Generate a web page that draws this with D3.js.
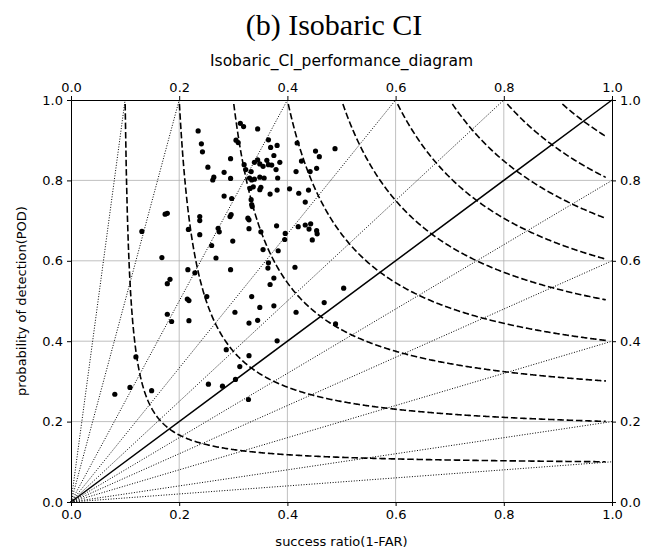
<!DOCTYPE html>
<html>
<head>
<meta charset="utf-8">
<script src="https://cdn.jsdelivr.net/npm/d3@7"></script>
<style>
  body { margin: 0; background: #fff; }
  svg { display: block; overflow: visible; }
  text { font-family: "DejaVu Sans", sans-serif; fill: #000; }
</style>
</head>
<body>
<div id="chart"></div>
<script>
const width = 664, height = 553;
const margin = {top: 100, right: 52, bottom: 51, left: 71};
const innerWidth = width - margin.left - margin.right;
const innerHeight = height - margin.top - margin.bottom;

// CSI contour levels and frequency-bias lines
const csiLevels = [0.1, 0.2, 0.3, 0.4, 0.5, 0.6, 0.7, 0.8, 0.9];
const biasLevels = [0.1, 0.2, 0.4, 0.6, 0.8, 1.25, 1.6667, 2.5, 5, 10];
const tickValues = [0, 0.2, 0.4, 0.6, 0.8, 1.0];

// scatter: success ratio (1-FAR) and POD for each case
const successRatio = [
  0.235, 0.241, 0.243, 0.253, 0.264, 0.262, 0.283, 0.295, 0.295, 0.313,
  0.319, 0.345, 0.305, 0.365, 0.381, 0.369, 0.418, 0.452, 0.459, 0.488,
  0.320, 0.323, 0.333, 0.339, 0.345, 0.349, 0.355, 0.362, 0.365, 0.371,
  0.375, 0.386, 0.379, 0.382, 0.330, 0.334, 0.339, 0.349, 0.357, 0.331,
  0.337, 0.351, 0.349, 0.368, 0.381, 0.404, 0.421, 0.439, 0.283, 0.297,
  0.333, 0.334, 0.335, 0.426, 0.442, 0.454, 0.416, 0.433, 0.309,
  0.174, 0.178, 0.131, 0.238, 0.238, 0.217, 0.238, 0.272, 0.274, 0.260,
  0.299, 0.296, 0.294, 0.327, 0.329, 0.329, 0.351, 0.380, 0.396, 0.395,
  0.420, 0.433, 0.443, 0.440, 0.454, 0.455, 0.446, 0.355, 0.383, 0.168,
  0.268, 0.365, 0.364, 0.295, 0.414, 0.216, 0.229, 0.183, 0.178, 0.375,
  0.368, 0.504, 0.251, 0.334, 0.215, 0.218, 0.349, 0.375, 0.416, 0.468,
  0.178, 0.186, 0.218, 0.303, 0.329, 0.345, 0.489, 0.381, 0.287, 0.329,
  0.312, 0.304, 0.280, 0.254, 0.328, 0.120, 0.109, 0.149, 0.081
];
const pod = [
  0.923, 0.891, 0.871, 0.833, 0.808, 0.801, 0.820, 0.854, 0.805, 0.942,
  0.934, 0.928, 0.900, 0.901, 0.887, 0.882, 0.893, 0.873, 0.859, 0.879,
  0.839, 0.827, 0.822, 0.845, 0.851, 0.841, 0.835, 0.850, 0.839, 0.838,
  0.862, 0.845, 0.827, 0.806, 0.806, 0.801, 0.803, 0.808, 0.806, 0.780,
  0.784, 0.783, 0.777, 0.766, 0.776, 0.779, 0.768, 0.776, 0.761, 0.755,
  0.752, 0.740, 0.735, 0.848, 0.822, 0.830, 0.822, 0.746, 0.894,
  0.716, 0.718, 0.673, 0.710, 0.700, 0.678, 0.665, 0.681, 0.672, 0.638,
  0.649, 0.715, 0.710, 0.706, 0.702, 0.680, 0.672, 0.687, 0.668, 0.653,
  0.685, 0.689, 0.692, 0.679, 0.675, 0.667, 0.652, 0.628, 0.625, 0.608,
  0.607, 0.595, 0.582, 0.578, 0.584, 0.578, 0.570, 0.554, 0.543, 0.557,
  0.541, 0.532, 0.511, 0.511, 0.505, 0.501, 0.484, 0.488, 0.472, 0.496,
  0.467, 0.449, 0.451, 0.472, 0.445, 0.452, 0.443, 0.401, 0.379, 0.364,
  0.337, 0.305, 0.288, 0.293, 0.255, 0.361, 0.285, 0.277, 0.268
];

const svg = d3.select("#chart")
  .append("svg")
  .attr("width", width)
  .attr("height", height);

const xScale = d3.scaleLinear().domain([0, 1]).range([0, innerWidth]);
const yScale = d3.scaleLinear().domain([0, 1]).range([innerHeight, 0]);

const inner = svg.append("g")
  .attr("transform", `translate(${margin.left}, ${margin.top})`);

// grid
inner.append("g")
  .selectAll("line")
  .data(tickValues.slice(1, -1))
  .join("line")
    .attr("x1", d => xScale(d)).attr("x2", d => xScale(d))
    .attr("y1", 0).attr("y2", innerHeight)
    .attr("stroke", "#b0b0b0").attr("stroke-width", 0.8);
inner.append("g")
  .selectAll("line")
  .data(tickValues.slice(1, -1))
  .join("line")
    .attr("y1", d => yScale(d)).attr("y2", d => yScale(d))
    .attr("x1", 0).attr("x2", innerWidth)
    .attr("stroke", "#b0b0b0").attr("stroke-width", 0.8);

const line = d3.line()
  .x(d => xScale(d[0]))
  .y(d => yScale(d[1]));

// bias lines (dotted)
biasLevels.forEach(b => {
  const end = b <= 1 ? [1, b] : [1 / b, 1];
  inner.append("path")
    .datum([[0, 0], end])
    .attr("fill", "none")
    .attr("stroke", "#000")
    .attr("stroke-width", 1)
    .attr("stroke-dasharray", "1,1.65")
    .attr("d", line);
});

// bias = 1
inner.append("path")
  .datum([[0, 0], [1, 1]])
  .attr("fill", "none")
  .attr("stroke", "#000")
  .attr("stroke-width", 1.5)
  .attr("d", line);

// CSI contours (dashed)
csiLevels.forEach(c => {
  const srStart = 1 / (1 / c + 1 - 1 / 0.99);
  const pts = d3.range(srStart, 0.9901, 0.002).map(sr => [sr, 1 / (1 / c + 1 - 1 / sr)]);
  inner.append("path")
    .datum(pts)
    .attr("fill", "none")
    .attr("stroke", "#000")
    .attr("stroke-width", 1.6)
    .attr("stroke-dasharray", "6.5,2.8")
    .attr("d", line);
});

// scatter
inner.append("g")
  .selectAll("circle")
  .data(successRatio.map((s, i) => [s, pod[i]]))
  .join("circle")
    .attr("cx", d => xScale(d[0]))
    .attr("cy", d => yScale(d[1]))
    .attr("r", 2.6)
    .attr("fill", "#000");

// axes on all four sides
const fmt = d3.format(".1f");
const styleAxis = g => {
  g.attr("font-size", 13).attr("font-family", "DejaVu Sans, sans-serif");
  g.select(".domain").attr("stroke-width", 1);
};
inner.append("g")
  .attr("transform", `translate(0, ${innerHeight})`)
  .call(d3.axisBottom(xScale).tickValues(tickValues).tickFormat(fmt).tickSizeOuter(0).tickSize(4).tickPadding(4))
  .call(styleAxis);
inner.append("g")
  .call(d3.axisTop(xScale).tickValues(tickValues).tickFormat(fmt).tickSizeOuter(0).tickSize(4).tickPadding(4))
  .call(styleAxis);
inner.append("g")
  .call(d3.axisLeft(yScale).tickValues(tickValues).tickFormat(fmt).tickSizeOuter(0).tickSize(4).tickPadding(4))
  .call(styleAxis);
inner.append("g")
  .attr("transform", `translate(${innerWidth}, 0)`)
  .call(d3.axisRight(yScale).tickValues(tickValues).tickFormat(fmt).tickSizeOuter(0).tickSize(4).tickPadding(4))
  .call(styleAxis);

// titles and labels
svg.append("text")
  .text("(b) Isobaric CI")
  .attr("x", 334).attr("y", 35)
  .attr("text-anchor", "middle")
  .style("font-family", "'Liberation Serif', 'Times New Roman', serif")
  .attr("font-size", 30);

svg.append("text")
  .text("Isobaric_CI_performance_diagram")
  .attr("x", margin.left + innerWidth / 2).attr("y", 66)
  .attr("text-anchor", "middle")
  .attr("font-size", 15.5);

svg.append("text")
  .text("success ratio(1-FAR)")
  .attr("x", margin.left + innerWidth / 2).attr("y", 546)
  .attr("text-anchor", "middle")
  .attr("font-size", 13);

svg.append("text")
  .text("probability of detection(POD)")
  .attr("transform", `translate(26, ${margin.top + innerHeight / 2}) rotate(-90)`)
  .attr("text-anchor", "middle")
  .attr("font-size", 13);
</script>
</body>
</html>
